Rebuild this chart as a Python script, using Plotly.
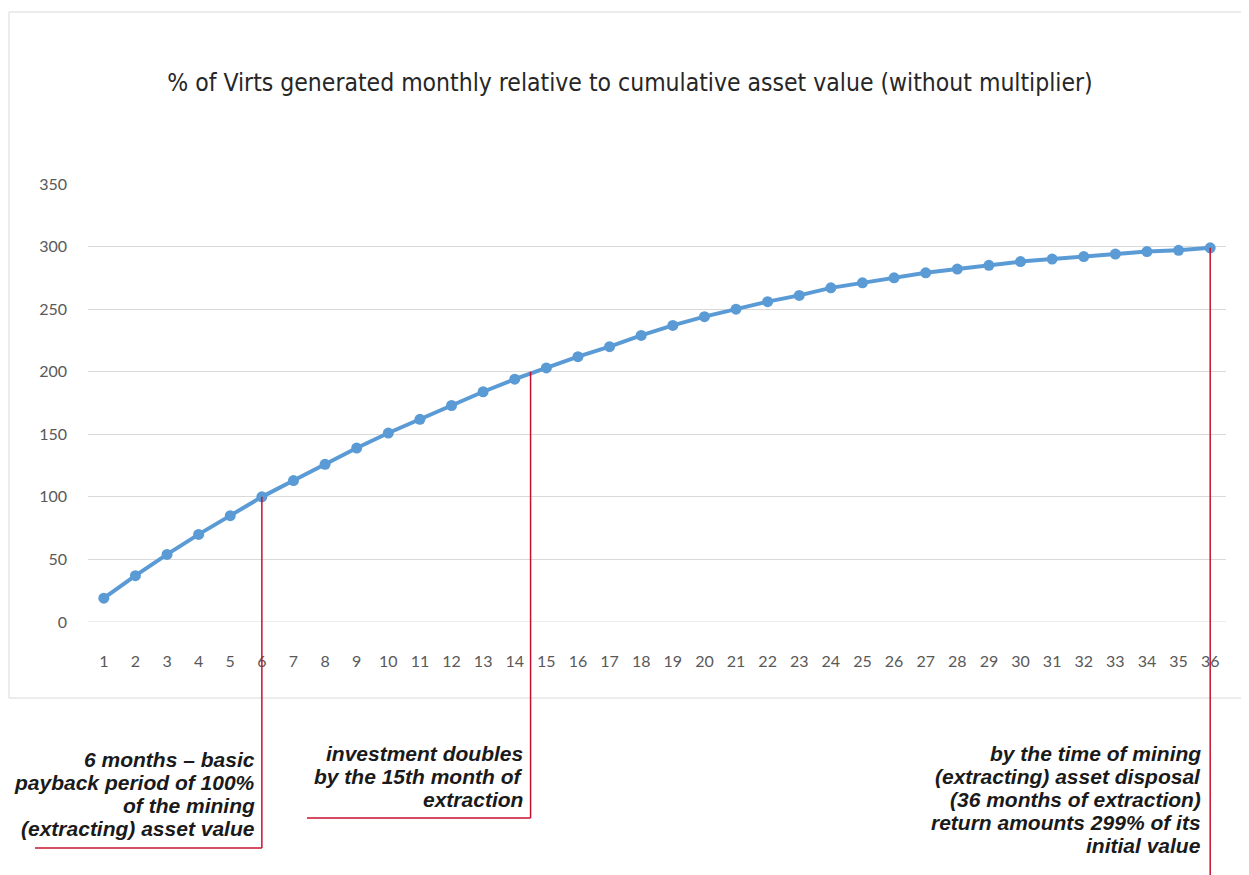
import plotly.graph_objects as go

# ---- data ----
months = list(range(1, 37))
values = [19, 37, 54, 70, 85, 100, 113, 126, 139, 151, 162, 173, 184, 194, 203, 212,
          220, 229, 237, 244, 250, 256, 261, 267, 271, 275, 279, 282, 285, 288, 290,
          292, 294, 296, 297, 299]
y_ticks = [0, 50, 100, 150, 200, 250, 300, 350]
title_text = "% of Virts generated monthly relative to cumulative asset value (without multiplier)"

# callout anchor points (month, value)
callout_months = [6, 14.5, 36]
callout_values = [100, 200, 299]
callout_texts = [
    ["6 months \u2013 basic", "payback period of 100%", "of the mining", "(extracting) asset value"],
    ["investment doubles", "by the 15th month of", "extraction"],
    ["by the time of mining", "(extracting) asset disposal", "(36 months of extraction)",
     "return amounts 299% of its", "initial value"],
]

# ---- layout geometry (page pixels; page body has an 8px margin) ----
OFF = 8
W, H = 1249 - OFF, 875 - OFF
L, R, T, B = 88 - OFF, 23, 184 - OFF, 253
PW, PH = W - L - R, H - T - B


def px(xp):
    return (xp - OFF - L) / PW


def py(yp):
    return (H - B - (yp - OFF)) / PH


fig = go.Figure()
fig.add_trace(go.Scatter(
    x=months, y=values, mode="lines+markers",
    line=dict(color="#5B9BD5", width=4),
    marker=dict(color="#5B9BD5", size=11),
    showlegend=False, cliponaxis=False,
))

RED = "#C8102E"
shapes = []
# chart-area border
shapes.append(dict(type="rect", xref="paper", yref="paper",
                   x0=px(9), x1=px(1262), y0=py(698), y1=py(12),
                   line=dict(color="#D9D9D9", width=1), fillcolor="rgba(0,0,0,0)", layer="below"))

# callout connector lines: vertical from point down, horizontal underline
callout_bottom_px = [848, 818, 890]
callout_left_px = [35, 307, None]
for m, v, bpx, lpx in zip(callout_months, callout_values, callout_bottom_px, callout_left_px):
    shapes.append(dict(type="line", xref="x", yref="y", x0=m, x1=m, y0=v, y1=0,
                       line=dict(color=RED, width=1.5), layer="above"))
    shapes.append(dict(type="line", xref="x", yref="paper", x0=m, x1=m, y0=0, y1=py(bpx),
                       line=dict(color=RED, width=1.5), layer="above"))
    if lpx is not None:
        shapes.append(dict(type="line", xref="paper", yref="paper",
                           x0=px(lpx), x1=(m - 0.5) / 36, y0=py(bpx), y1=py(bpx),
                           line=dict(color=RED, width=1.5), layer="above"))

# callout texts (one annotation per line, right aligned)
text_right_px = [257, 525, 1203]
text_top_px = [759, 753, 753]
line_step = 23.0
annotations = []
for lines, rx, ty in zip(callout_texts, text_right_px, text_top_px):
    for i, t in enumerate(lines):
        annotations.append(dict(
            xref="paper", yref="paper", x=px(rx), y=py(ty + i * line_step),
            xanchor="right", yanchor="middle", showarrow=False, text=t,
            font=dict(family="Liberation Sans, Arial, sans-serif", size=21, color="#1a1a1a",
                      weight="bold", style="italic"),
        ))

fig.update_layout(
    width=W, height=H,
    margin=dict(l=L, r=R, t=T, b=B),
    paper_bgcolor="white", plot_bgcolor="white",
    title=dict(text=title_text, xref="container", yref="container",
               x=(630 - OFF) / W, y=1 - (82 - OFF) / H,
               xanchor="center", yanchor="middle",
               font=dict(family="Liberation Sans Narrow, Arial Narrow, DejaVu Sans Condensed, sans-serif",
                         size=24.5, color="#262626")),
    xaxis=dict(range=[0.5, 36.5], tickvals=months, ticktext=[str(m) for m in months],
               showgrid=False, zeroline=False, showline=False, ticks="",
               ticklabelstandoff=28,
               tickfont=dict(family="Lato, Open Sans, sans-serif", size=16, color="#595959")),
    yaxis=dict(range=[0, 350], tickvals=y_ticks, showgrid=True, gridcolor="#D9D9D9", gridwidth=1,
               zeroline=False, showline=False, ticks="", ticklabelstandoff=20,
               tickfont=dict(family="Lato, Open Sans, sans-serif", size=16, color="#595959")),
    shapes=shapes,
    annotations=annotations,
)
fig.add_hline(y=0, line=dict(color="#D9D9D9", width=1), layer="below")

fig.write_html("out.html")
